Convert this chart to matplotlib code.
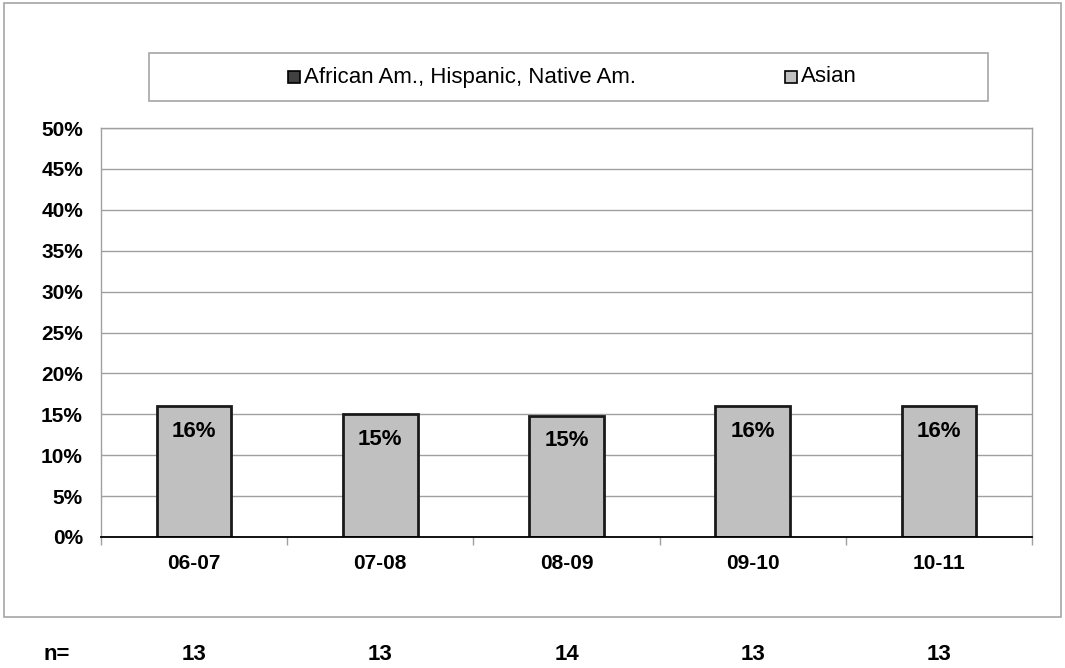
import matplotlib
matplotlib.use("Agg")
import matplotlib.pyplot as plt
from matplotlib.patches import Rectangle
import matplotlib.transforms as mtransforms

plt.rcParams['font.family'] = ['Liberation Sans', 'DejaVu Sans']

categories = ["06-07", "07-08", "08-09", "09-10", "10-11"]
afr_hisp_nat = [0.0, 0.0, 0.0, 0.0, 0.0]
asian = [0.16, 0.15, 0.148, 0.16, 0.16]
n_values = [13, 13, 14, 13, 13]
series_names = ["African Am., Hispanic, Native Am.", "Asian"]
yticks = [0, 0.05, 0.10, 0.15, 0.20, 0.25, 0.30, 0.35, 0.40, 0.45, 0.50]

W, H = 1065, 668
fig = plt.figure(figsize=(W / 100, H / 100), dpi=100)
fig.patch.set_facecolor("white")

def fx(px):
    return px / W

def fy(py):
    return 1 - py / H

FS_TICK = 15
FS_LAB = 16
FS_LEG = 16
FS_N = 16

# outer chart border
fig.add_artist(Rectangle((fx(4), fy(617)), fx(1061) - fx(4), fy(2.7) - fy(617),
                         transform=fig.transFigure, fill=False,
                         edgecolor="#A6A6A6", linewidth=1.2))

ax = fig.add_axes([fx(101), fy(537), fx(1032) - fx(101), fy(128) - fy(537)])

x = list(range(len(categories)))
gray_grid = "#A0A0A0"
ax.bar(x, afr_hisp_nat, width=0.4, color="#404040", edgecolor="black", linewidth=0, zorder=3)
bars = ax.bar(x, asian, width=0.4, bottom=afr_hisp_nat, color="#C0C0C0",
              edgecolor="#1a1a1a", linewidth=2, zorder=3)

for xi, v, b in zip(x, asian, afr_hisp_nat):
    ax.annotate(f"{round(v * 100):.0f}%", xy=(xi, v + b), xytext=(0, -18),
                textcoords="offset points", ha="center", va="center",
                fontsize=FS_LAB, fontweight="bold", zorder=4)

ax.set_xlim(-0.5, len(categories) - 0.5)
ax.set_ylim(0, 0.5)
ax.set_yticks(yticks)
ax.set_yticklabels([f"{round(t * 100)}%" for t in yticks], fontsize=FS_TICK, fontweight="bold")
ax.yaxis.grid(True, color=gray_grid, linewidth=1)
ax.set_axisbelow(True)
ax.tick_params(axis="y", length=0, pad=13)

# category ticks at boundaries
ax.set_xticks([i - 0.5 for i in range(len(categories) + 1)])
ax.set_xticklabels([""] * (len(categories) + 1))
ax.set_xticks(x, minor=True)
ax.set_xticklabels(categories, minor=True, fontsize=FS_TICK, fontweight="bold")
ax.tick_params(axis="x", which="major", length=6, color=gray_grid, width=1, direction="out")
ax.tick_params(axis="x", which="minor", length=0, pad=12)

for side in ["left", "right", "top"]:
    ax.spines[side].set_color(gray_grid)
    ax.spines[side].set_linewidth(1)
ax.spines["bottom"].set_color("black")
ax.spines["bottom"].set_linewidth(1.3)
ax.spines["bottom"].set_zorder(5)

# legend box
fig.add_artist(Rectangle((fx(149), fy(101)), fx(988) - fx(149), fy(53) - fy(101),
                         transform=fig.transFigure, fill=False,
                         edgecolor="#A6A6A6", linewidth=1.2))
leg_colors = ["#404040", "#C0C0C0"]
sq_x = [288, 785]
txt_x = [304, 801]
ly = 77
for name, c, sx, tx in zip(series_names, leg_colors, sq_x, txt_x):
    fig.add_artist(Rectangle((fx(sx), fy(ly + 6)), fx(12), 12 / H,
                             transform=fig.transFigure, facecolor=c,
                             edgecolor="black", linewidth=1.2))
    fig.text(fx(tx), fy(ly), name, ha="left", va="center", fontsize=FS_LEG)

# n row
fig.text(fx(57), fy(655), "n=", ha="center", va="center", fontsize=FS_N, fontweight="bold")
trans = mtransforms.blended_transform_factory(ax.transData, fig.transFigure)
for xi, nv in zip(x, n_values):
    ax.text(xi, fy(655), str(nv), transform=trans, ha="center", va="center",
            fontsize=FS_N, fontweight="bold", clip_on=False)

fig.savefig("out.png", dpi=100, facecolor="white")
